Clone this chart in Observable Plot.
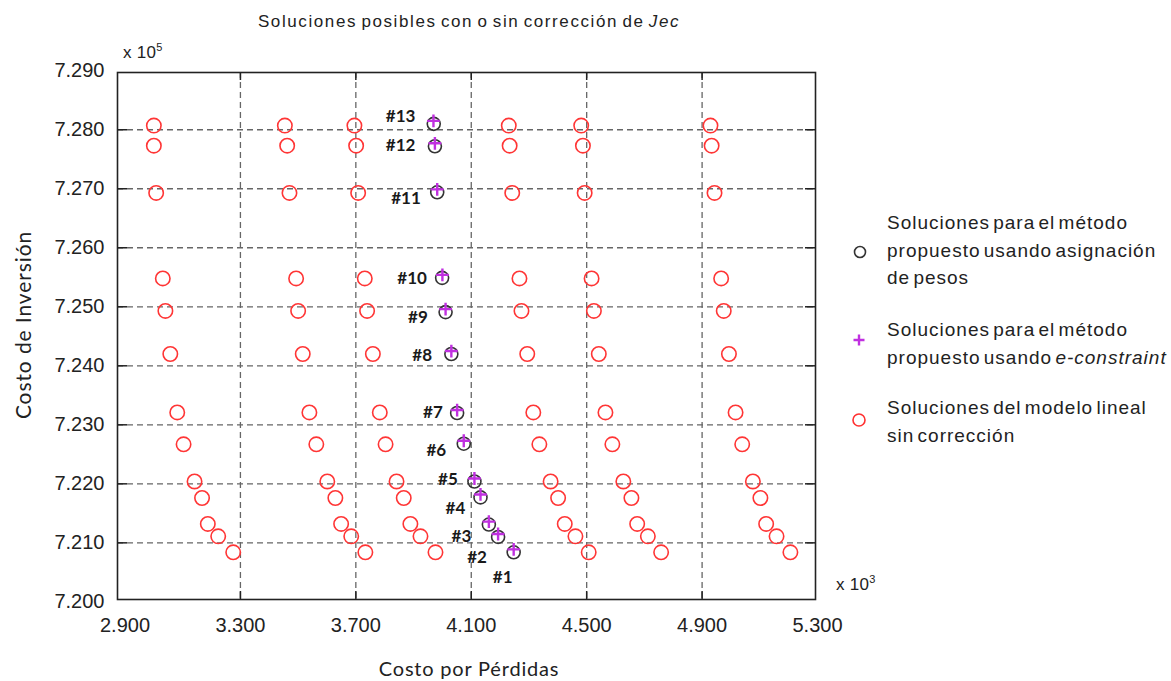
<!DOCTYPE html>
<html>
<head>
<meta charset="utf-8">
<script src="https://cdn.jsdelivr.net/npm/d3@7"></script>
<script src="https://cdn.jsdelivr.net/npm/@observablehq/plot@0.6"></script>
<style>
  body { margin: 0; background: #fff; }
  #wrap { position: relative; width: 1171px; height: 681px; overflow: hidden; font-family: "Liberation Sans", Arial, sans-serif; color: #222; }
  #wrap svg.plot { position: absolute; left: 0; top: 0; }
  .abs { position: absolute; white-space: nowrap; }
  #title { left: 0; width: 938px; top: 12px; text-align: center; font-size: 17px; letter-spacing: 1.6px; word-spacing: -2px; }
  .exp { font-size: 17px; letter-spacing: 0.3px; }
  .axt { font-family: Lato, "Open Sans", sans-serif; color: #222; }
  #ylab { left: 22px; top: 325px; font-size: 21px; letter-spacing: 0.9px; transform: translate(-50%, -50%) rotate(-90deg); }
  #xlab { left: 469px; top: 668px; font-size: 20px; letter-spacing: 0.8px; transform: translate(-50%, -50%); }
  .leg { font-size: 19px; letter-spacing: 1px; word-spacing: -3px; line-height: 27.5px; }
</style>
</head>
<body>
<div id="wrap">
  <div id="title" class="abs">Soluciones posibles con o sin corrección de <i>Jec</i></div>
  <div class="abs exp" style="left:123px; top:41px;">x 10<sup style="font-size:11px">5</sup></div>
  <div class="abs exp" style="left:836px; top:573px;">x 10<sup style="font-size:11px">3</sup></div>
  <div id="ylab" class="abs axt">Costo de Inversión</div>
  <div id="xlab" class="abs axt">Costo por Pérdidas</div>

  <svg class="abs" style="left:852px; top:244px" width="16" height="16"><circle cx="8" cy="8" r="5.5" fill="none" stroke="#333" stroke-width="1.6"/></svg>
  <div class="abs leg" style="left:887px; top:209px;">Soluciones para el método<br>propuesto usando asignación<br>de pesos</div>

  <svg class="abs" style="left:851px; top:332px" width="16" height="16"><path d="M8,2.5V13.5M2.5,8H13.5" stroke="#c030e0" stroke-width="2.4"/></svg>
  <div class="abs leg" style="left:887px; top:316px;">Soluciones para el método<br>propuesto usando <i>e-constraint</i></div>

  <svg class="abs" style="left:851px; top:412px" width="16" height="16"><circle cx="8" cy="8" r="6" fill="none" stroke="#ff3030" stroke-width="1.6"/></svg>
  <div class="abs leg" style="left:887px; top:394px;">Soluciones del modelo lineal<br>sin corrección</div>
</div>
<script>
// y values of the 13 solution rows (x 10^5), top to bottom
const rowY = [7.2807, 7.2773, 7.2693, 7.2548, 7.2493, 7.2420, 7.2321, 7.2267, 7.2204, 7.2176, 7.2132, 7.2111, 7.2084];

// Soluciones del modelo lineal sin corrección: six families of points (x 10^3)
const colA = [3.000, 3.000, 3.008, 3.031, 3.040, 3.057, 3.081, 3.103, 3.141, 3.167, 3.187, 3.223, 3.275];
const colB = [3.454, 3.462, 3.470, 3.493, 3.500, 3.516, 3.539, 3.563, 3.601, 3.629, 3.649, 3.684, 3.733];
const colC = [3.695, 3.701, 3.708, 3.731, 3.739, 3.759, 3.783, 3.803, 3.841, 3.866, 3.889, 3.924, 3.976];
const colD = [4.230, 4.233, 4.242, 4.267, 4.274, 4.294, 4.315, 4.336, 4.375, 4.401, 4.424, 4.461, 4.507];
const colE = [4.481, 4.487, 4.493, 4.517, 4.525, 4.542, 4.565, 4.589, 4.627, 4.655, 4.675, 4.712, 4.758];
const colF = [4.929, 4.933, 4.943, 4.966, 4.975, 4.993, 5.016, 5.039, 5.076, 5.102, 5.122, 5.158, 5.206];

// Método propuesto (asignación de pesos), #1 .. #13
const weightX = [4.247, 4.193, 4.161, 4.132, 4.111, 4.074, 4.051, 4.031, 4.011, 3.999, 3.982, 3.974, 3.970];
const weightY = [7.2084, 7.2110, 7.2131, 7.2177, 7.2204, 7.2268, 7.2320, 7.2420, 7.2491, 7.2549, 7.2694, 7.2772, 7.2810];

// Método propuesto (e-constraint), #1 .. #13
const epsX = [4.247, 4.193, 4.161, 4.132, 4.111, 4.074, 4.051, 4.031, 4.011, 4.000, 3.982, 3.974, 3.969];
const epsY = [7.2089, 7.2115, 7.2136, 7.2182, 7.2209, 7.2273, 7.2325, 7.2425, 7.2496, 7.2554, 7.2699, 7.2777, 7.2815];

// Point labels
const labelText = ["#1", "#2", "#3", "#4", "#5", "#6", "#7", "#8", "#9", "#10", "#11", "#12", "#13"];
const labelX = [4.209, 4.120, 4.066, 4.045, 4.019, 3.979, 3.967, 3.930, 3.915, 3.895, 3.874, 3.855, 3.855];
const labelY = [7.2042, 7.2075, 7.2110, 7.2158, 7.2207, 7.2256, 7.2321, 7.2418, 7.2482, 7.2548, 7.2683, 7.2773, 7.2823];

// Ticks
const xTicks = [2.9, 3.3, 3.7, 4.1, 4.5, 4.9, 5.3];
const yTicks = [7.20, 7.21, 7.22, 7.23, 7.24, 7.25, 7.26, 7.27, 7.28, 7.29];
const xGrid = [3.3, 3.7, 4.1, 4.5, 4.9];
const yGrid = [7.21, 7.22, 7.23, 7.24, 7.25, 7.26, 7.27, 7.28];

const red = [];
[colA, colB, colC, colD, colE, colF].forEach(col => col.forEach((x, i) => red.push({x, y: rowY[i]})));
const weights = weightX.map((x, i) => ({x, y: weightY[i]}));
const eps = epsX.map((x, i) => ({x, y: epsY[i]}));
const labels = labelText.map((t, i) => ({t, x: labelX[i], y: labelY[i]}));

const fmt = d3.format(".3f");
const W = 1171, H = 681, mL = 117, mR = 356, mT = 72, mB = 82;
const frameH = H - mT - mB, frameW = W - mL - mR;

const chart = Plot.plot({
  width: W, height: H,
  marginLeft: mL, marginRight: mR, marginTop: mT, marginBottom: mB,
  style: {background: "transparent", fontFamily: "'Liberation Sans', Arial, sans-serif", color: "#222"},
  x: {domain: [2.874, 5.293]},
  y: {domain: [7.2004, 7.2897]},
  marks: [
    Plot.gridX(xGrid, {stroke: "#666", strokeOpacity: 1, strokeWidth: 1.3, strokeDasharray: "6,4"}),
    Plot.gridY(yGrid, {stroke: "#666", strokeOpacity: 1, strokeWidth: 1.3, strokeDasharray: "6,4"}),
    // inward ticks on all four sides
    Plot.ruleX(xGrid, {x: d => d, insetTop: frameH - 8, stroke: "#222", strokeWidth: 1.5}),
    Plot.ruleX(xGrid, {x: d => d, insetBottom: frameH - 8, stroke: "#222", strokeWidth: 1.5}),
    Plot.ruleY(yGrid, {y: d => d, insetRight: frameW - 10, stroke: "#222", strokeWidth: 1.5}),
    Plot.ruleY(yGrid, {y: d => d, insetLeft: frameW - 10, stroke: "#222", strokeWidth: 1.5}),
    Plot.axisX({ticks: xTicks, tickFormat: fmt, tickSize: 0, tickPadding: 18, fontSize: 20, label: null}),
    Plot.axisY({ticks: yTicks, tickFormat: fmt, tickSize: 0, tickPadding: 13, fontSize: 20, label: null}),
    Plot.dot(red, {x: "x", y: "y", r: 7.2, stroke: "#ff3535", strokeWidth: 1.6, fill: "none"}),
    Plot.dot(weights, {x: "x", y: "y", r: 6.5, stroke: "#333", strokeWidth: 1.6, fill: "none"}),
    Plot.dot(eps, {x: "x", y: "y", symbol: "plus", r: 4.2, stroke: "#c030e0", strokeWidth: 2.4}),
    Plot.text(labels, {x: "x", y: "y", text: "t", fontSize: 17, fontWeight: "bold", fontFamily: "Lato, 'Open Sans', sans-serif", fill: "#1a1a1a"}),
    Plot.frame({stroke: "#222", strokeWidth: 1.6})
  ]
});
chart.classList.add("plot");
document.getElementById("wrap").prepend(chart);
</script>
</body>
</html>
